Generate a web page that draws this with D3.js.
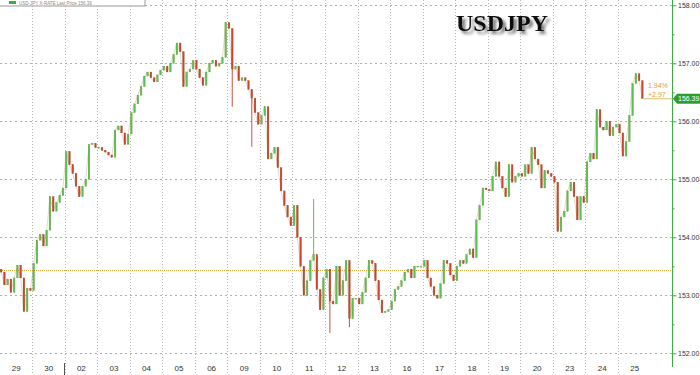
<!DOCTYPE html>
<html><head><meta charset="utf-8">
<script src="https://cdn.jsdelivr.net/npm/d3@7"></script>
<style>body{margin:0;background:#fff}svg{display:block}</style>
</head><body><svg id="c" width="700" height="375"></svg>
<script>
// ---------------- data ----------------
const dayLabels = ["29","30","02","03","04","05","06","09","10","11","12","13","16","17","18","19","20","23","24","25"];
const closesByDay = [
  [153.40,153.18,153.28,153.05,153.30,153.52,153.30,152.72,153.12,153.08],
  [153.55,153.95,154.05,153.85,154.12,154.70,154.45,154.60,154.72,154.85],
  [155.48,155.25,155.10,154.88,154.70,154.88,155.00,155.60,155.62,155.55],
  [155.55,155.50,155.47,155.42,155.38,155.85,155.92,155.80,155.60,155.78],
  [156.15,156.30,156.45,156.60,156.78,156.85,156.75,156.68,156.80,156.88],
  [156.95,156.85,157.00,157.15,157.35,157.20,156.60,156.85,156.90,157.05],
  [156.90,156.75,156.62,156.85,157.00,157.05,156.95,157.00,157.10,157.70],
  [157.60,156.90,156.95,156.70,156.75,156.70,156.55,156.40,156.15,155.95],
  [156.10,156.25,155.35,155.45,155.55,155.20,154.80,154.55,154.35,154.20],
  [154.55,154.00,153.50,153.00,153.25,153.60,153.70,153.10,152.75,153.30],
  [153.45,152.90,152.85,153.50,153.00,153.25,153.60,152.60,152.95,152.95],
  [152.85,153.05,153.30,153.60,153.55,153.25,152.92,152.70,152.72,152.75],
  [152.90,153.10,153.15,153.25,153.40,153.45,153.30,153.50,153.50,153.50],
  [153.60,153.30,153.15,153.00,152.95,153.20,153.60,153.55,153.35,153.25],
  [153.50,153.60,153.55,153.70,153.80,153.65,154.30,154.55,154.85,154.82],
  [154.80,155.05,155.30,155.05,154.85,154.70,155.25,154.95,155.05,155.10],
  [155.05,155.25,155.10,155.55,155.35,155.25,154.85,155.15,155.10,155.05],
  [154.95,154.10,154.35,154.45,154.80,154.95,154.70,154.30,154.70,154.60],
  [155.30,155.45,155.35,156.20,155.90,155.85,156.00,155.75,155.90,155.95],
  [155.80,155.40,155.65,156.10,156.65,156.82,156.70,156.39]
];
const firstOpen = 153.45;
const spikeBar = [71, 77, 96, 101, 107];
const spikeVal = [156.25, 155.56, 154.66, 152.35, 152.45];
const refLevel = 153.43;
const lastPrice = 156.39;
const changePct = "1.94%";
const changeAbs = "+2.97";
const yTicks = [152,153,154,155,156,157,158];
const yMinor = [152.5,153.5,154.5,155.5,156.5,157.5];
const monthStartDay = "02";
const title = "USDJPY";

// ---------------- build ----------------
const svg = d3.select("#c");
const W = 700, H = 375, axisX = 672, plotBottom = 365;
const barsPerDay = 10;
const FONT = "Liberation Sans, Arial, sans-serif";
const x = d3.scaleLinear().domain([0, 20.66]).range([-0.5, axisX]);
const y = d3.scaleLinear().domain([152, 158]).range([353.3, 5.3]);

const bars = [];
let prev = firstOpen;
closesByDay.forEach((arr, d) => {
  arr.forEach((c, j) => {
    bars.push({d, j, o: prev, c});
    prev = c;
  });
});
bars.forEach((b, i) => {
  b.hi = Math.max(b.o, b.c); b.lo = Math.min(b.o, b.c);
  const k = spikeBar.indexOf(i);
  if (k >= 0) { b.hi = Math.max(b.hi, spikeVal[k]); b.lo = Math.min(b.lo, spikeVal[k]); }
});
const cx = b => x(b.d + (b.j + 0.5) / barsPerDay);

const defs = svg.append("defs");
const f = defs.append("filter").attr("id","sh").attr("x","-10%").attr("y","-30%").attr("width","130%").attr("height","180%");
f.append("feDropShadow").attr("dx",3).attr("dy",3).attr("stdDeviation",1.6)
  .attr("flood-color","#000").attr("flood-opacity",0.55);

// gridlines
svg.append("g").selectAll("line").data(yTicks).join("line")
  .attr("x1",0).attr("x2",axisX).attr("y1",d=>Math.round(y(d))+0.5).attr("y2",d=>Math.round(y(d))+0.5)
  .attr("stroke","#b0b0b0").attr("stroke-dasharray","2,3");
svg.append("g").selectAll("line").data(d3.range(1, dayLabels.length)).join("line")
  .attr("x1",d=>Math.round(x(d))+0.5).attr("x2",d=>Math.round(x(d))+0.5).attr("y1",0).attr("y2",H)
  .attr("stroke","#b8b8b8").attr("stroke-dasharray","1,2");

// month separator tick
const mi = dayLabels.indexOf(monthStartDay);
svg.append("line").attr("x1",Math.round(x(mi))-0.5).attr("x2",Math.round(x(mi))-0.5)
  .attr("y1",plotBottom-2).attr("y2",H).attr("stroke","#555");

// reference level
svg.append("line").attr("x1",0).attr("x2",axisX).attr("y1",Math.round(y(refLevel))+0.5).attr("y2",Math.round(y(refLevel))+0.5)
  .attr("stroke","#d9a441").attr("stroke-dasharray","1,1");

// thin connector through closes (gives continuous look)
const g = svg.append("g");
g.append("path").datum(bars)
  .attr("d", d3.line().x(cx).y(b=>y(b.c)))
  .attr("fill","none").attr("stroke","#9a8a55").attr("stroke-width",0.5).attr("opacity",0.6);
// candles
g.selectAll("line.w").data(bars).join("line").attr("class","w")
  .attr("x1",cx).attr("x2",cx)
  .attr("y1",b=>y(b.hi)).attr("y2",b=>y(b.lo))
  .attr("stroke",b=>b.c>=b.o?"#4cb84c":"#cc3a2e").attr("stroke-width",0.9);
g.selectAll("rect").data(bars).join("rect")
  .attr("x",b=>cx(b)-0.85).attr("width",1.7)
  .attr("y",b=>y(Math.max(b.o,b.c))).attr("height",b=>Math.max(1,Math.abs(y(b.o)-y(b.c))))
  .attr("fill",b=>b.c>=b.o?"#56c256":"#d4402e")
  .attr("stroke",b=>b.c>=b.o?"#7a9a40":"#a0582a").attr("stroke-width",0.3);

// last price line
const lastBar = bars[bars.length-1];
svg.append("line").attr("x1",cx(lastBar)).attr("x2",axisX)
  .attr("y1",y(lastPrice)).attr("y2",y(lastPrice)).attr("stroke","#e6c88e").attr("stroke-width",1.2);
svg.append("text").attr("x",648).attr("y",88).text(changePct)
  .attr("font-family",FONT).attr("font-size",7).attr("fill","#e0a040");
svg.append("text").attr("x",648).attr("y",97).text(changeAbs)
  .attr("font-family",FONT).attr("font-size",7).attr("fill","#e0a040");

// right axis
const ax = svg.append("g").attr("transform",`translate(${axisX+0.5},0)`)
  .call(d3.axisRight(y).tickValues(yTicks).tickFormat(d3.format(".2f")).tickSize(4).tickPadding(1.5));
ax.select(".domain").remove();
ax.selectAll("line").attr("stroke","#3cae3c");
ax.selectAll("text").attr("fill","#333").attr("font-family",FONT).attr("font-size",7);
const axm = svg.append("g").attr("transform",`translate(${axisX+0.5},0)`)
  .call(d3.axisRight(y).tickValues(yMinor).tickFormat("").tickSize(2));
axm.select(".domain").remove();
axm.selectAll("line").attr("stroke","#3cae3c");
svg.append("line").attr("x1",axisX+0.5).attr("x2",axisX+0.5).attr("y1",0).attr("y2",plotBottom+2).attr("stroke","#3cae3c");

// price tag
const ty = y(lastPrice);
svg.append("path").attr("d",`M${axisX+1},${ty} L${axisX+5},${ty-5} L${W},${ty-5} L${W},${ty+5} L${axisX+5},${ty+5} Z`).attr("fill","#2f9e2f");
svg.append("text").attr("x",axisX+6).attr("y",ty+2.5).text(d3.format(".2f")(lastPrice))
  .attr("fill","#fff").attr("font-family",FONT).attr("font-size",7);

// bottom day labels
const bx = svg.append("g").attr("transform",`translate(0,${plotBottom-3})`)
  .call(d3.axisBottom(x).tickValues(d3.range(dayLabels.length).map(d=>d+0.5)).tickFormat(d=>dayLabels[Math.floor(d)]).tickSize(0).tickPadding(3));
bx.select(".domain").remove();
bx.selectAll("text").attr("fill","#333").attr("font-family",FONT).attr("font-size",8);

// top-left legend box (top edge)
svg.append("rect").attr("x",-1).attr("y",-8).attr("width",146).attr("height",14).attr("fill","#fff").attr("stroke","#999");
svg.append("rect").attr("x",9).attr("y",1).attr("width",7).attr("height",3).attr("fill","#3cae3c");
svg.append("text").attr("x",19).attr("y",4.5).text("USD-JPY X-RATE      Last Price 156.39")
  .attr("fill","#888").attr("font-family",FONT).attr("font-size",4.5);

// title
svg.append("text").attr("x",456).attr("y",31).text(title)
  .attr("font-family","Liberation Serif, Times New Roman, serif").attr("font-weight","bold")
  .attr("font-size",24).attr("fill","#111").attr("filter","url(#sh)");
</script></body></html>
